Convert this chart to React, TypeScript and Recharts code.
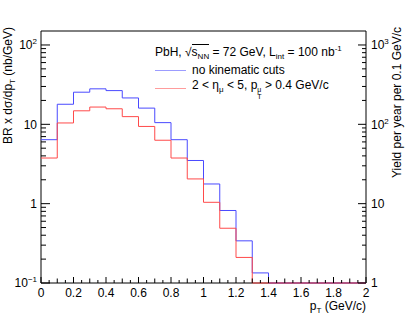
import React from "react";
import { LineChart, Line, XAxis, YAxis, Legend, ReferenceArea, Label } from "recharts";

// bin low edges (GeV/c), 0.1 GeV/c wide
const ptLow = [0, 0.1, 0.2, 0.3, 0.4, 0.5, 0.6, 0.7, 0.8, 0.9, 1.0, 1.1, 1.2, 1.3, 1.4, 1.5, 1.6, 1.7, 1.8, 1.9];
const ptMax = 2;

// BR x dsigma/dpT (nb/GeV)
const noCuts = [6.4, 17.9, 25.4, 28.0, 26.6, 21.5, 16.0, 10.5, 6.4, 3.5, 1.77, 0.82, 0.34, 0.134, 0, 0, 0, 0, 0, 0];
const withCuts = [3.76, 10.4, 14.8, 16.5, 15.7, 12.5, 9.4, 6.3, 3.76, 2.05, 1.04, 0.49, 0.21, 0, 0, 0, 0, 0, 0, 0];

const yMin = 0.1;
const yMax = 150;
const yieldScale = 10; // yield per year per 0.1 GeV/c = 10 x cross section

const xMajor = [0, 0.2, 0.4, 0.6, 0.8, 1, 1.2, 1.4, 1.6, 1.8, 2];
const xLabels = ["0", "0.2", "0.4", "0.6", "0.8", "1", "1.2", "1.4", "1.6", "1.8", "2"];
const leftMajor = [0.1, 1, 10, 100];
const rightMajor = [1, 10, 100, 1000];

const FONT = "'Liberation Sans', Arial, Helvetica, sans-serif";
const BLUE = "#4a4aff";
const RED = "#ff4a4a";
const seriesColor: Record<string, string> = { blue: BLUE, red: RED };

const xTicks = Array.from({ length: 41 }, (_, i) => Math.round(i * 5) / 100);
const decadeTicks = (lo: number, hi: number) => {
  const out: number[] = [];
  for (let d = lo; d < hi; d *= 10) {
    for (let k = 1; k <= 9; k++) out.push(Math.round(d * k * 1000) / 1000);
  }
  return out;
};
const leftTicks = decadeTicks(0.1, 100).concat([100]);
const rightTicks = decadeTicks(1, 1000).concat([1000]);

const clampLog = (v: number) => Math.max(v, yMin);
const data = ptLow
  .map((pt, i) => ({ pt, blue: clampLog(noCuts[i]), red: clampLog(withCuts[i]) }))
  .concat([{ pt: ptMax, blue: clampLog(noCuts[noCuts.length - 1]), red: clampLog(withCuts[withCuts.length - 1]) }])
  .map((d) => ({ ...d, yieldBlue: d.blue * yieldScale }));

const powLabel = (v: number) => {
  if (v === 0.1) return { base: "10", exp: "\u22121" };
  if (v === 100) return { base: "10", exp: "2" };
  if (v === 1000) return { base: "10", exp: "3" };
  return { base: String(v), exp: "" };
};

const XTick = (props: any) => {
  const { x, y, payload } = props;
  const v = payload.value;
  const mi = xMajor.findIndex((m) => Math.abs(m - v) < 1e-6);
  const isTenth = Math.abs(v * 10 - Math.round(v * 10)) < 1e-6;
  const len = mi >= 0 ? 6 : isTenth ? 4.5 : 3;
  return (
    <g>
      <line x1={x} x2={x} y1={y} y2={y - len} stroke="#000" />
      {mi >= 0 && (
        <text x={x} y={y + 14} textAnchor="middle" fontSize={12} fontFamily={FONT} fill="#000">
          {xLabels[mi]}
        </text>
      )}
    </g>
  );
};

const LeftTick = (props: any) => {
  const { x, y, payload } = props;
  const v = payload.value;
  const major = leftMajor.includes(v);
  const lab = powLabel(v);
  return (
    <g>
      <line x1={x} x2={x + (major ? 9 : 5)} y1={y} y2={y} stroke="#000" />
      {major && (
        <text x={x - 4} y={y + 4.3} textAnchor="end" fontSize={12} fontFamily={FONT} fill="#000">
          {lab.base}
          {lab.exp && (
            <tspan fontSize={8} dy={-5}>
              {lab.exp}
            </tspan>
          )}
        </text>
      )}
    </g>
  );
};

const RightTick = (props: any) => {
  const { x, y, payload } = props;
  const v = payload.value;
  const major = rightMajor.includes(v);
  const lab = powLabel(v);
  return (
    <g>
      <line x1={x} x2={x - (major ? 8 : 4)} y1={y} y2={y} stroke="#000" />
      {major && (
        <text x={x + 5} y={y + 4.3} textAnchor="start" fontSize={12} fontFamily={FONT} fill="#000">
          {lab.base}
          {lab.exp && (
            <tspan fontSize={8} dy={-5}>
              {lab.exp}
            </tspan>
          )}
        </text>
      )}
    </g>
  );
};

const sub = { fontSize: 8, verticalAlign: "-3px", lineHeight: 0 } as const;
const sup = { fontSize: 8, verticalAlign: "5px", lineHeight: 0 } as const;

const legendText: Record<string, React.ReactNode> = {
  blue: "no kinematic cuts",
  red: (
    <>
      2 &lt; η<span style={sub}>μ</span> &lt; 5, p
      <span style={{ display: "inline-flex", flexDirection: "column", fontSize: 7, lineHeight: "7px", verticalAlign: "-3px" }}>
        <span>μ</span>
        <span>T</span>
      </span>{" "}
      &gt; 0.4 GeV/c
    </>
  ),
};

const renderLegend = (props: any) => {
  const { payload } = props;
  const rows = (payload || []).filter((p: any) => legendText[p.dataKey]);
  return (
    <div style={{ fontFamily: FONT, fontSize: 12, color: "#000", whiteSpace: "nowrap" }}>
      <div style={{ height: 17, lineHeight: "17px" }}>
        PbH, √<span style={{ borderTop: "1px solid #000" }}>s<span style={sub}>NN</span></span> = 72 GeV, L
        <span style={sub}>int</span> = 100 nb<span style={sup}>-1</span>
      </div>
      {rows.map((p: any) => (
        <div key={p.dataKey} style={{ display: "flex", alignItems: "center", height: 18, lineHeight: "18px" }}>
          <span
            style={{
              display: "inline-block",
              width: 31,
              height: 0,
              borderTop: `1px solid ${seriesColor[p.dataKey]}`,
              opacity: 0.55,
              marginRight: 6,
            }}
          />
          <span>{legendText[p.dataKey]}</span>
        </div>
      ))}
    </div>
  );
};

export default function App() {
  return (
    <div style={{ position: "absolute", left: 0, top: 0, width: 407, height: 315, background: "#fff" }}>
      <LineChart width={407} height={315} data={data} margin={{ top: 31, right: 40, bottom: 31, left: 40 }}>
        <XAxis
          dataKey="pt"
          type="number"
          domain={[0, ptMax]}
          ticks={xTicks}
          interval={0}
          height={1}
          tickSize={0}
          tickMargin={0}
          axisLine={false}
          tickLine={false}
          tick={<XTick />}
        >
          <Label
            content={(p: any) => {
              const vb = p.viewBox;
              return (
                <text x={vb.x + vb.width} y={vb.y + 27} textAnchor="end" fontSize={12} fontFamily={FONT} fill="#000">
                  p
                  <tspan fontSize={8} dy={3}>T</tspan>
                  <tspan dy={-3}> (GeV/c)</tspan>
                </text>
              );
            }}
          />
        </XAxis>
        <YAxis
          yAxisId="left"
          scale="log"
          domain={[yMin, yMax]}
          ticks={leftTicks}
          interval={0}
          width={1}
          tickSize={0}
          tickMargin={0}
          axisLine={false}
          tickLine={false}
          tick={<LeftTick />}
        >
          <Label
            content={(p: any) => {
              const vb = p.viewBox;
              const x = vb.x - 28;
              const y = vb.y - 4;
              return (
                <text x={x} y={y} transform={`rotate(-90 ${x} ${y})`} textAnchor="end" fontSize={12} fontFamily={FONT} fill="#000">
                  BR x dσ/dp
                  <tspan fontSize={8} dy={3}>T</tspan>
                  <tspan dy={-3}> (nb/GeV)</tspan>
                </text>
              );
            }}
          />
        </YAxis>
        <YAxis
          yAxisId="right"
          orientation="right"
          scale="log"
          domain={[yMin * yieldScale, yMax * yieldScale]}
          ticks={rightTicks}
          interval={0}
          width={1}
          tickSize={0}
          tickMargin={0}
          axisLine={false}
          tickLine={false}
          tick={<RightTick />}
        >
          <Label
            content={(p: any) => {
              const vb = p.viewBox;
              const x = vb.x + 35;
              const y = vb.y - 4;
              return (
                <text x={x} y={y} transform={`rotate(-90 ${x} ${y})`} textAnchor="end" fontSize={12} fontFamily={FONT} fill="#000">
                  Yield per year per 0.1 GeV/c
                </text>
              );
            }}
          />
        </YAxis>
        <ReferenceArea yAxisId="left" x1={0} x2={ptMax} y1={yMin} y2={yMax} stroke="#000" strokeWidth={1} fill="none" />
        <Line
          yAxisId="right"
          type="stepAfter"
          dataKey="yieldBlue"
          stroke="none"
          dot={false}
          legendType="none"
          isAnimationActive={false}
        />
        <Line yAxisId="left" type="stepAfter" dataKey="blue" stroke={BLUE} strokeWidth={1} dot={false} isAnimationActive={false} />
        <Line yAxisId="left" type="stepAfter" dataKey="red" stroke={RED} strokeWidth={1} dot={false} isAnimationActive={false} />
        <Legend
          layout="horizontal"
          verticalAlign="middle"
          align="center"
          content={renderLegend}
          wrapperStyle={{ position: "absolute", left: 155, top: 44, width: 230, height: 60 }}
        />
      </LineChart>
    </div>
  );
}
